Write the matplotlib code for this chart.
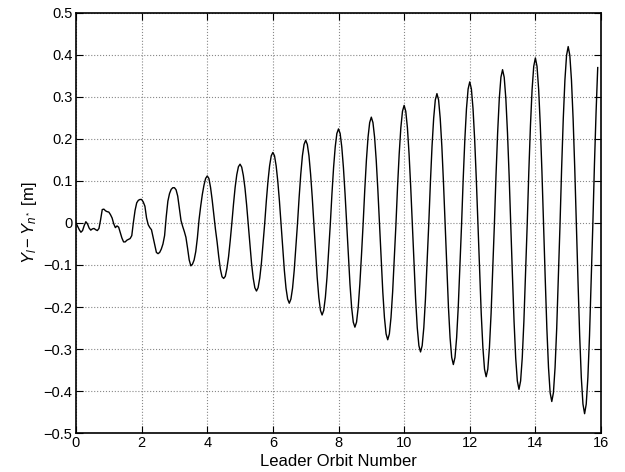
import matplotlib
matplotlib.use('Agg')
import matplotlib.pyplot as plt
import numpy as np

dev_0_5 = [
    0.000, -0.008, -0.016, -0.022, -0.018, -0.006, 0.003, -0.002, -0.012, -0.017,
    -0.014, -0.013, -0.016, -0.018, -0.013, 0.008, 0.032, 0.033, 0.029, 0.027,
    0.026, 0.020, 0.012, -0.002, -0.011, -0.007, -0.010, -0.023, -0.036, -0.045,
    -0.045, -0.041, -0.039, -0.037, -0.030, 0.002, 0.030, 0.048, 0.054, 0.056,
    0.056, 0.050, 0.040, 0.012, -0.004, -0.011, -0.016, -0.034, -0.052, -0.070,
    -0.073, -0.070, -0.062, -0.050, -0.030, 0.015, 0.052, 0.070, 0.080, 0.084,
    0.084, 0.079, 0.064, 0.035, 0.006, -0.008, -0.020, -0.034, -0.060, -0.088,
    -0.102, -0.098, -0.088, -0.068, -0.035, 0.008, 0.040, 0.068, 0.090, 0.106,
    0.112, 0.106, 0.085, 0.055, 0.020, -0.015, -0.045, -0.080, -0.110, -0.128,
    -0.132, -0.127, -0.108, -0.080, -0.042, 0.000, 0.045, 0.085, 0.115, 0.134,
]

dev_5_10 = [
    0.140, 0.133, 0.113, 0.083, 0.043, -0.002, -0.050, -0.096, -0.131, -0.154,
    -0.162, -0.154, -0.131, -0.096, -0.050, -0.002, 0.052, 0.099, 0.136, 0.160,
    0.168, 0.160, 0.136, 0.099, 0.052, -0.002, -0.059, -0.113, -0.155, -0.181,
    -0.191, -0.181, -0.155, -0.113, -0.059, -0.002, 0.061, 0.116, 0.160, 0.187,
    0.197, 0.187, 0.160, 0.116, 0.061, -0.003, -0.068, -0.129, -0.177, -0.208,
    -0.219, -0.208, -0.177, -0.129, -0.068, -0.003, 0.069, 0.132, 0.181, 0.213,
    0.224, 0.213, 0.181, 0.132, 0.069, -0.003, -0.077, -0.146, -0.201, -0.236,
    -0.248, -0.236, -0.201, -0.146, -0.077, -0.003, 0.078, 0.149, 0.204, 0.239,
    0.252, 0.239, 0.204, 0.149, 0.078, -0.004, -0.086, -0.164, -0.225, -0.264,
    -0.278, -0.264, -0.225, -0.164, -0.086, -0.004, 0.087, 0.165, 0.227, 0.266,
]

dev_10_16 = [
    0.280, 0.266, 0.227, 0.165, 0.087, -0.004, -0.095, -0.181, -0.249, -0.292,
    -0.307, -0.292, -0.249, -0.181, -0.095, -0.004, 0.095, 0.182, 0.249, 0.293,
    0.308, 0.293, 0.249, 0.182, 0.095, -0.005, -0.104, -0.199, -0.273, -0.320,
    -0.337, -0.320, -0.273, -0.199, -0.104, -0.005, 0.104, 0.198, 0.272, 0.319,
    0.336, 0.319, 0.272, 0.198, 0.104, -0.005, -0.113, -0.216, -0.296, -0.348,
    -0.366, -0.348, -0.296, -0.216, -0.113, -0.005, 0.113, 0.215, 0.296, 0.347,
    0.365, 0.347, 0.296, 0.215, 0.113, -0.006, -0.123, -0.234, -0.321, -0.376,
    -0.396, -0.376, -0.321, -0.234, -0.123, -0.006, 0.122, 0.232, 0.318, 0.373,
    0.393, 0.373, 0.318, 0.232, 0.122, -0.006, -0.132, -0.251, -0.344, -0.404,
    -0.425, -0.404, -0.344, -0.251, -0.132, -0.006, 0.130, 0.248, 0.340, 0.399,
    0.420, 0.399, 0.340, 0.248, 0.130, -0.007, -0.141, -0.268, -0.368, -0.431,
    -0.454, -0.431, -0.368, -0.268, -0.141, -0.007, 0.139, 0.264, 0.370,
]

x_ticks = [0, 2, 4, 6, 8, 10, 12, 14, 16]
y_ticks = [-0.5, -0.4, -0.3, -0.2, -0.1, 0, 0.1, 0.2, 0.3, 0.4, 0.5]
y_tick_labels = ['\u22120.5', '\u22120.4', '\u22120.3', '\u22120.2', '\u22120.1', '0',
                 '0.1', '0.2', '0.3', '0.4', '0.5']


def main():
    plt.rcParams['font.family'] = ['Liberation Sans', 'DejaVu Sans']
    plt.rcParams['mathtext.fontset'] = 'custom'
    plt.rcParams['mathtext.rm'] = 'Liberation Sans'
    plt.rcParams['mathtext.it'] = 'Liberation Sans:italic'

    dev = np.array(dev_0_5 + dev_5_10 + dev_10_16)
    orbit = np.arange(len(dev)) * 0.05

    fig = plt.figure(figsize=(6.25, 4.72), dpi=100)
    ax = fig.add_axes([0.1216, 0.0826, 0.84, 0.8899])
    ax.plot(orbit, dev, color='k', linewidth=1.0)

    ax.set_xlim(0, 16)
    ax.set_ylim(-0.5, 0.5)
    ax.set_xticks(x_ticks)
    ax.set_yticks(y_ticks)
    ax.set_yticklabels(y_tick_labels)
    ax.tick_params(direction='in', length=5, width=0.8, top=True, right=True,
                   labelsize=10.5, pad=2.5)
    for spine in ax.spines.values():
        spine.set_linewidth(1.2)
    ax.grid(True, linestyle=':', color='#888888', linewidth=0.8)

    ax.set_xlabel('Leader Orbit Number', fontsize=12, labelpad=2.5)
    ax.set_ylabel(r'$Y_l - Y_{n^*}$ [m]', fontsize=12, labelpad=3)

    fig.savefig('out.png', dpi=100)


if __name__ == "__main__":
    main()
